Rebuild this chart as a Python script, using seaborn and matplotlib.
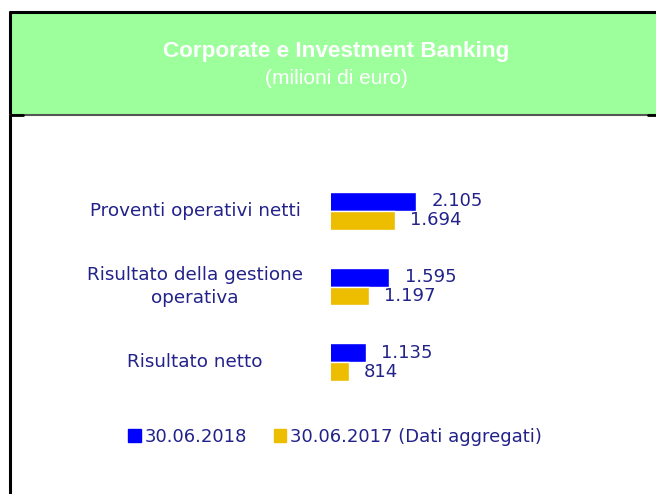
import matplotlib.pyplot as plt
import matplotlib.lines as mlines
import matplotlib.patches as mpatches
import pandas as pd
import seaborn as sb

categorie = ["Proventi operativi netti", "Risultato della gestione\noperativa", "Risultato netto"]
serie = ["30.06.2018", "30.06.2017 (Dati aggregati)"]
valori_2018 = [2105, 1595, 1135]
valori_2017 = [1694, 1197, 814]
etichette_2018 = ["2.105", "1.595", "1.135"]
etichette_2017 = ["1.694", "1.197", "814"]

colori = ["#0000FF", "#EDBD00"]
testo = "#22228A"

t = pd.DataFrame({
    "Categoria": categorie * 2,
    "Serie": [serie[0]] * 3 + [serie[1]] * 3,
    "Valore": valori_2018 + valori_2017,
})

sb.set_style("white")
plt.rcParams["font.family"] = ["DejaVu Sans"]

W, H = 656, 494
fig = plt.figure(figsize=(W / 100, H / 100), dpi=100)


def px(x0, y0, w, h):
    # coordonate in pixeli (de sus in jos) -> fractii figura
    return [x0 / W, 1 - (y0 + h) / H, w / W, h / H]


# antet verde
fig.patches.append(mpatches.Rectangle((10 / W, 1 - 114 / H), 1, 101 / H, transform=fig.transFigure,
                                      facecolor="#9CFF9C", edgecolor="none", zorder=0))
fig.lines.append(mlines.Line2D([10 / W, 1], [1 - 12 / H] * 2, transform=fig.transFigure, color="black", lw=2.2))
fig.lines.append(mlines.Line2D([10 / W] * 2, [0, 1 - 12 / H], transform=fig.transFigure, color="black", lw=2.2))
fig.lines.append(mlines.Line2D([10 / W, 1], [1 - 115 / H] * 2, transform=fig.transFigure, color="#555555", lw=1.5))
fig.lines.append(mlines.Line2D([10 / W, 23 / W], [1 - 115 / H] * 2, transform=fig.transFigure, color="black", lw=2))
fig.lines.append(mlines.Line2D([648 / W, 1], [1 - 115 / H] * 2, transform=fig.transFigure, color="black", lw=2))
fig.text(336 / W, 1 - 51 / H, "Corporate e Investment Banking", ha="center", va="center",
         color="white", fontsize=16.2, fontweight="bold", family="Liberation Sans")
fig.text(336 / W, 1 - 79 / H, "(milioni di euro)", ha="center", va="center",
         color="white", fontsize=15, family="Liberation Sans")

ax = fig.add_axes(px(331, 173, 269, 227))
sb.barplot(data=t, y="Categoria", x="Valore", hue="Serie", orient="h", palette=colori,
           width=0.5, saturation=1, ax=ax, legend=False)
ax.set_xlim(468, 5651)
ax.set_ylim(2.5, -0.5)
ax.set_xticks([])
ax.set_yticks([])
ax.set_xlabel("")
ax.set_ylabel("")
sb.despine(ax=ax, left=True, bottom=True)

for cont, et in zip(ax.containers, [etichette_2018, etichette_2017]):
    ax.bar_label(cont, labels=et, padding=11, color=testo, fontsize=13)

for i, c in enumerate(categorie):
    ax.text(-0.505, i, c, transform=ax.get_yaxis_transform(), ha="center", va="center",
            multialignment="center", color=testo, fontsize=13.2, linespacing=1.3)

handles = [mpatches.Patch(color=colori[0], label=serie[0]),
           mpatches.Patch(color=colori[1], label=serie[1])]
fig.legend(handles=handles, loc="center", bbox_to_anchor=(335 / W, 1 - 437 / H), ncol=2, frameon=False,
           fontsize=13, labelcolor=testo, handlelength=0.7, handleheight=0.7, handletextpad=0.2,
           columnspacing=1.5)

fig.savefig("out.png", dpi=100)
